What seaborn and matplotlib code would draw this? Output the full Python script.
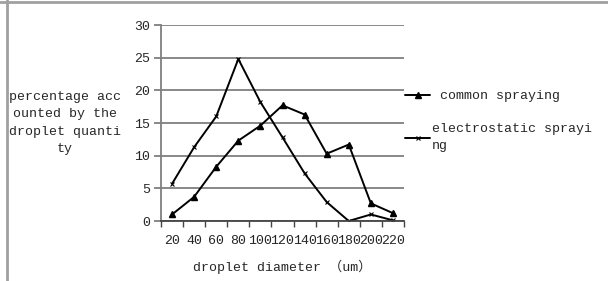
import matplotlib
matplotlib.use("Agg")
import matplotlib.pyplot as plt
from matplotlib.lines import Line2D
from matplotlib.ticker import FixedLocator
import pandas as pd
import seaborn as sns

# droplet diameter classes (um)
diameters = ["20", "40", "60", "80", "100", "120", "140", "160", "180", "200", "220"]
# percentage of droplets in each class
common_spraying = [1.0, 3.7, 8.3, 12.3, 14.6, 17.7, 16.3, 10.3, 11.7, 2.7, 1.2]
electrostatic_spraying = [5.7, 11.3, 16.0, 24.8, 18.2, 12.8, 7.3, 2.9, 0.0, 1.0, 0.1]
y_ticks = [0, 5, 10, 15, 20, 25, 30]

sns.set_style("white")
plt.rcParams["font.family"] = ["Liberation Mono", "Noto Sans CJK SC", "DejaVu Sans"]
FS = 9.5

df = pd.DataFrame({"diameter": diameters,
                   "common": common_spraying,
                   "electrostatic": electrostatic_spraying})

fig = plt.figure(figsize=(6.08, 2.81), dpi=100)
ax = fig.add_axes([161 / 608, 1 - 221 / 281, 243 / 608, 196 / 281])

sns.pointplot(data=df, x="diameter", y="common", order=diameters, ax=ax,
              color="black", markers="^", markersize=4.5, linewidth=1.4)
sns.pointplot(data=df, x="diameter", y="electrostatic", order=diameters, ax=ax,
              color="black", markers="x", markersize=3.5, linewidth=1.4,
              markeredgewidth=0.8)

ax.set_xlim(-0.5, len(diameters) - 0.5)
ax.set_ylim(0, 30)
ax.set_yticks(y_ticks)
ax.yaxis.grid(True, color="#7f7f7f", linewidth=1.3)
ax.xaxis.grid(False)
for s in ["top", "right"]:
    ax.spines[s].set_visible(False)
ax.spines["left"].set_color("#7f7f7f")
ax.spines["left"].set_linewidth(1.3)
ax.spines["bottom"].set_color("#444444")
ax.spines["bottom"].set_linewidth(1.3)

ax.xaxis.set_minor_locator(FixedLocator([i - 0.5 for i in range(len(diameters) + 1)]))
ax.tick_params(axis="x", which="major", length=0, pad=10, labelsize=FS)
ax.tick_params(axis="x", which="minor", length=4, width=1, color="#444444",
               direction="out", bottom=True)
ax.tick_params(axis="y", length=5, width=1.3, color="#7f7f7f", direction="out",
               left=True, pad=3, labelsize=FS)
ax.set_ylabel("")
ax.set_xlabel("droplet diameter （um）", fontsize=FS, labelpad=9)

fig.text(65 / 608, 1 - 123 / 281,
         "percentage acc\nounted by the\ndroplet quanti\nty",
         ha="center", va="center", multialignment="center", fontsize=FS,
         linespacing=1.6)

handles = [Line2D([], [], color="black", marker="^", markersize=4.5, linewidth=1.4),
           Line2D([], [], color="black", marker="x", markersize=3.5, linewidth=1.4,
                  markeredgewidth=0.8)]
leg = ax.legend(handles, [" common spraying", "electrostatic sprayi\nng"],
                loc="upper left", bbox_to_anchor=(405 / 608, 1 - 90 / 281),
                bbox_transform=fig.transFigure, frameon=False, fontsize=FS,
                handlelength=1.9, handletextpad=0.15, labelspacing=1.6,
                borderpad=0, borderaxespad=0)
for t in leg.get_texts():
    t.set_linespacing(1.55)

# picture frame (top and left edges)
fig.add_artist(Line2D([0, 1], [1 - 1.5 / 281] * 2, transform=fig.transFigure,
                      color="#a0a0a0", linewidth=2))
fig.add_artist(Line2D([7 / 608] * 2, [0, 1], transform=fig.transFigure,
                      color="#a0a0a0", linewidth=2))

fig.savefig("out.png", dpi=100)
